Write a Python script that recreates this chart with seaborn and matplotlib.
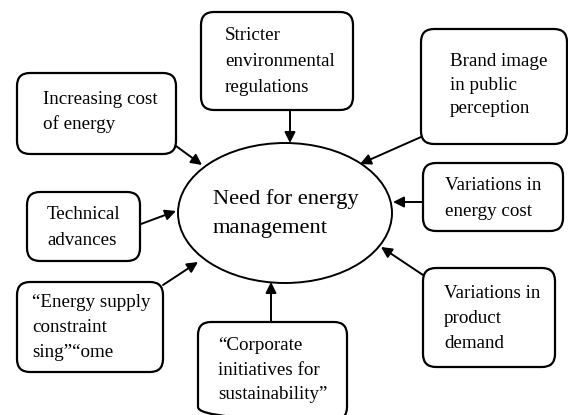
import matplotlib
matplotlib.use("Agg")
import matplotlib.pyplot as plt
import seaborn as sns
from matplotlib.patches import FancyBboxPatch, Ellipse, FancyArrowPatch

sns.set_theme(style="white")
plt.rcParams['font.family'] = ['Liberation Serif', 'DejaVu Serif']

# ---- content ----
center_lines = ["Need for energy", "management"]
box_labels = [
    ["Stricter", "environmental", "regulations"],
    ["Increasing cost", "of energy"],
    ["Brand image", "in public", "perception"],
    ["Technical", "advances"],
    ["Variations in", "energy cost"],
    ["\u201cEnergy supply", "constraint", "sing\u201d\u201come"],
    ["\u201cCorporate", "initiatives for", "sustainability\u201d"],
    ["Variations in", "product", "demand"],
]

# ---- layout (pixel space) ----
boxes = [  # left, top, right, bottom
    (201, 12, 353, 110),
    (17, 73, 176, 154),
    (421, 29, 567, 144),
    (27, 192, 140, 261),
    (423, 163, 563, 231),
    (17, 282, 163, 372),
    (198, 322, 347, 420),
    (423, 268, 555, 367),
]
text_x = [225, 43, 450, 47, 445, 32, 218, 444]
text_y = [
    [35, 62, 88],
    [99, 124],
    [62, 85, 108],
    [214, 240],
    [185, 211],
    [302, 327, 352],
    [345, 370, 394],
    [293, 318, 343],
]
arrows = [  # tail, head
    ((290, 110), (290, 143)),
    ((176, 146), (202, 165)),
    ((421, 137), (360, 164)),
    ((141, 224), (176, 211)),
    ((423, 202), (393, 202)),
    ((163, 285), (198, 262)),
    ((271, 322), (271, 282)),
    ((423, 275), (381, 247)),
]

fig = plt.figure(figsize=(5.68, 4.15), dpi=100)
ax = fig.add_axes([0, 0, 1, 1])
ax.set_xlim(0, 568)
ax.set_ylim(415, 0)
ax.axis("off")

ax.add_patch(Ellipse((285, 213), 214, 140, fill=False, ec="black", lw=1.4))
for line, y in zip(center_lines, [199, 228]):
    ax.text(213, y, line, ha="left", va="center", fontsize=16.2, color="black")

for (l, t, r, b), lines, tx, tys in zip(boxes, box_labels, text_x, text_y):
    ax.add_patch(FancyBboxPatch((l, t), r - l, b - t,
                                boxstyle="round,pad=0,rounding_size=13",
                                fill=False, ec="black", lw=1.6))
    for line, y in zip(lines, tys):
        ax.text(tx, y, line, ha="left", va="center", fontsize=13.7, color="black")

for (x0, y0), (x1, y1) in arrows:
    ax.add_patch(FancyArrowPatch((x0, y0), (x1, y1), arrowstyle="-|>",
                                 mutation_scale=16, lw=1.4, color="black",
                                 shrinkA=0, shrinkB=0))

fig.savefig("out.png", dpi=100)
